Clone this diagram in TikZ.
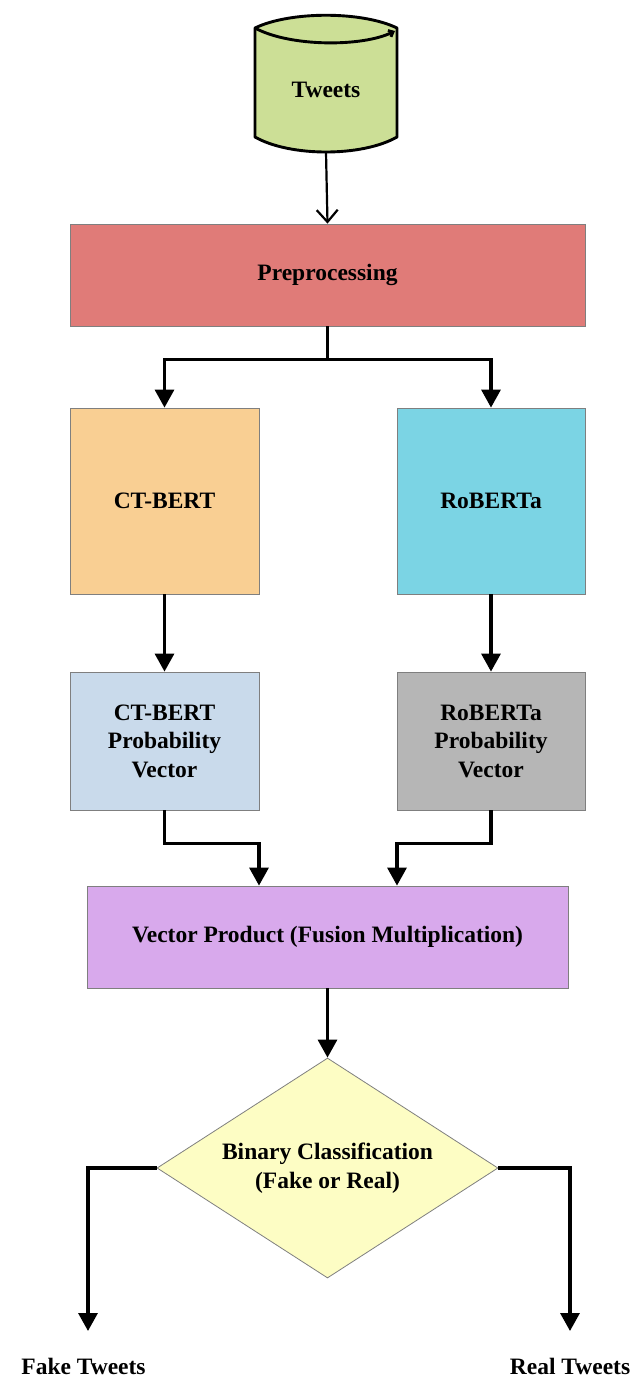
\documentclass[tikz,border=0pt]{standalone}
\usepackage{fontspec}
\setmainfont{Liberation Serif}
\usetikzlibrary{arrows.meta,shapes.geometric,calc}
\definecolor{cylgreen}{HTML}{CCDF96}
\definecolor{prered}{HTML}{E07B78}
\definecolor{ctorange}{HTML}{F9CF93}
\definecolor{robcyan}{HTML}{7BD4E4}
\definecolor{ctpblue}{HTML}{C9DAEB}
\definecolor{robgray}{HTML}{B6B6B6}
\definecolor{vppurple}{HTML}{D8A9EC}
\definecolor{diayellow}{HTML}{FDFDC4}
\definecolor{edgegray}{HTML}{7F7F7F}
\tikzset{
  txt/.style={font=\fontsize{23.5}{28.5}\selectfont\bfseries, align=center, text=black},
  boxnode/.style={txt, draw=edgegray, line width=0.8pt, rectangle, inner sep=0pt},
  arr/.style={line width=3.2pt, -{Triangle[width=19pt,length=18pt]}},
  thinarr/.style={line width=2.2pt, -{Straight Barb[width=21pt,length=12pt]}},
}
\begin{document}
\begin{tikzpicture}[x=1pt,y=-1pt]
\useasboundingbox (0,0) rectangle (636,1377);
% cylinder
\fill[cylgreen] (255,28) .. controls (290,11) and (362,11) .. (397,28)
  -- (397,137) .. controls (362,157) and (290,157) .. (255,137) -- cycle;
\draw[line width=2.9pt, line join=round] (255,28) .. controls (290,11) and (362,11) .. (397,28)
  -- (397,137) .. controls (362,157) and (290,157) .. (255,137) -- cycle;
\draw[line width=2.9pt, -{Straight Barb[width=7pt,length=4pt]}] (255,28) .. controls (290,47) and (362,47) .. (395,31);
\node[txt] (tw) at (326,90) {Tweets};
\coordinate (twb) at (326,152);
% boxes
\node[boxnode, fill=prered, minimum width=515pt, minimum height=102pt] (pre) at (327.5,275) {Preprocessing};
\node[boxnode, fill=ctorange, minimum width=189pt, minimum height=186pt] (ct) at (164.5,501) {CT-BERT};
\node[boxnode, fill=robcyan, minimum width=188pt, minimum height=186pt] (rob) at (491,501) {RoBERTa};
\node[boxnode, fill=ctpblue, minimum width=189pt, minimum height=138pt] (ctp) at (164.5,741) {CT-BERT\\Probability\\Vector};
\node[boxnode, fill=robgray, minimum width=188pt, minimum height=138pt] (robp) at (491,741) {RoBERTa\\Probability\\Vector};
\node[boxnode, fill=vppurple, minimum width=481pt, minimum height=102pt] (vp) at (327.5,937) {Vector Product (Fusion Multiplication)};
\node[txt, diamond, draw=edgegray, line width=0.8pt, fill=diayellow, inner sep=0pt, aspect=1.55, minimum width=341pt, minimum height=220pt] (dia) at (327.5,1168) {Binary Classification\\(Fake or Real)};
\node[txt] (fake) at (83.5,1366) {Fake Tweets};
\node[txt] (real) at (570,1366) {Real Tweets};
\coordinate (fakeend) at (88,1331);
\coordinate (realend) at (570,1331);
% connectors
\draw[thinarr] (twb) -- (pre.north);
\draw[arr] (pre.south) -- ++(0,33) -| (ct.north);
\draw[arr] (pre.south) -- ++(0,33) -| (rob.north);
\draw[arr] (ct.south) -- (ctp.north);
\draw[arr] (rob.south) -- (robp.north);
\draw[arr] (ctp.south) -- ++(0,33) -| ([xshift=-68.5pt]vp.north);
\draw[arr] (robp.south) -- ++(0,33) -| ([xshift=69.5pt]vp.north);
\draw[arr] (vp.south) -- (dia.north);
\draw[arr] (dia.west) -| (fakeend);
\draw[arr] (dia.east) -| (realend);
\end{tikzpicture}
\end{document}
